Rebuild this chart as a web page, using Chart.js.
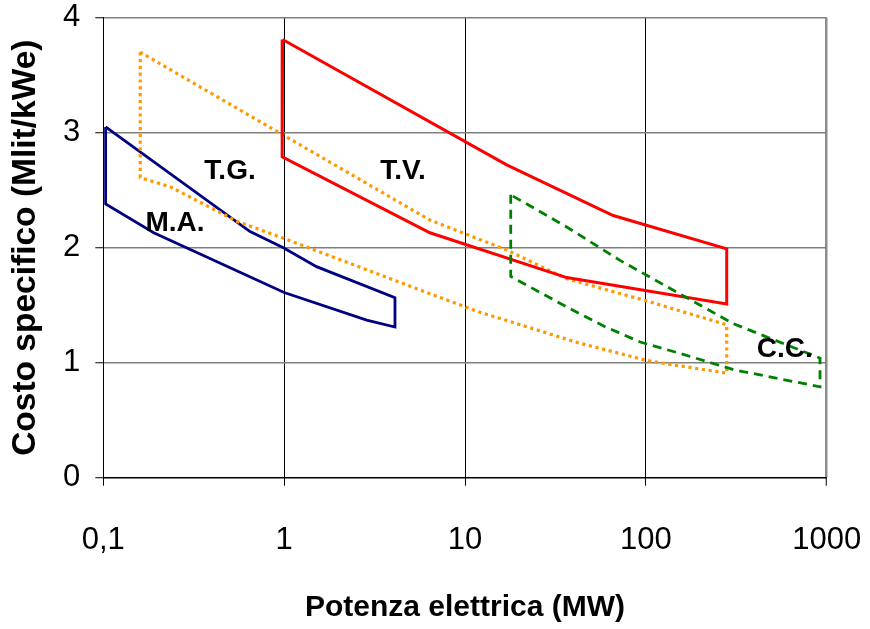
<!DOCTYPE html>
<html>
<head>
<meta charset="utf-8">
<script src="https://cdn.jsdelivr.net/npm/chart.js@4.4.1/dist/chart.umd.min.js"></script>
<style>
  html, body { margin: 0; padding: 0; background: #fff; }
  #wrap { width: 870px; height: 629px; }
</style>
</head>
<body>
<div id="wrap"><canvas id="costChart"></canvas></div>
<script>
// Axis ticks
const xTicks = [0.1, 1, 10, 100, 1000];
const xTickLabels = ["0,1", "1", "10", "100", "1000"];

// M.A. - motori alternativi
const maPower = [0.103, 0.103, 0.19, 1.0, 2.86, 4.1, 4.1, 1.51, 0.99, 0.648, 0.103];
const maCost = [3.05, 2.38, 2.13, 1.61, 1.37, 1.31, 1.565, 1.835, 2.0, 2.14, 3.05];

// T.G. - turbine a gas
const tgPower = [0.16, 0.16, 0.234, 0.547, 1.0, 6.4, 12, 43, 101, 130, 280, 280, 97, 36.5, 17, 6.4, 0.16];
const tgCost = [3.70, 2.61, 2.53, 2.23, 2.08, 1.60, 1.44, 1.17, 1.02, 0.99, 0.91, 1.33, 1.545, 1.73, 1.98, 2.24, 3.70];

// T.V. - turbine a vapore
const tvPower = [0.98, 0.975, 6.4, 36.5, 280, 280, 66, 17, 0.98];
const tvCost = [3.81, 2.79, 2.13, 1.74, 1.51, 1.99, 2.28, 2.72, 3.81];

// C.C. - ciclo combinato
const ccPower = [17.9, 17.9, 38, 60, 93, 155, 305, 918, 918, 304, 142, 72, 36.5, 17.9];
const ccCost = [2.46, 1.75, 1.47, 1.31, 1.18, 1.08, 0.94, 0.79, 1.04, 1.34, 1.63, 1.89, 2.18, 2.46];

// Region labels
const labelText = ["T.G.", "M.A.", "T.V.", "C.C."];
const labelPower = [0.502, 0.249, 4.54, 587];
const labelCost = [2.667, 2.21, 2.663, 1.119];

const FONT = "'Liberation Sans', Arial, sans-serif";

function toPoints(xs, ys) {
  return xs.map((v, i) => ({ x: v, y: ys[i] }));
}

// Draw the region names at their data positions
const regionLabels = {
  id: "regionLabels",
  afterDatasetsDraw(chart) {
    const { ctx, scales: { x, y } } = chart;
    ctx.save();
    ctx.font = "bold 28px " + FONT;
    ctx.fillStyle = "#000";
    ctx.textAlign = "center";
    ctx.textBaseline = "middle";
    labelText.forEach((t, i) => {
      ctx.fillText(t, x.getPixelForValue(labelPower[i]), y.getPixelForValue(labelCost[i]));
    });
    ctx.restore();
  },
};

new Chart(document.getElementById("costChart").getContext("2d"), {
  type: "scatter",
  data: {
    datasets: [
      {
        label: "M.A.",
        data: toPoints(maPower, maCost),
        borderColor: "#000080",
        borderWidth: 2.8,
        order: 4,
      },
      {
        label: "T.G.",
        data: toPoints(tgPower, tgCost),
        borderColor: "#FF9900",
        borderWidth: 3.2,
        borderDash: [3.2, 3.6],
        order: 3,
      },
      {
        label: "T.V.",
        data: toPoints(tvPower, tvCost),
        borderColor: "#FF0000",
        borderWidth: 3,
        order: 2,
      },
      {
        label: "C.C.",
        data: toPoints(ccPower, ccCost),
        borderColor: "#008000",
        borderWidth: 2.8,
        borderDash: [9, 6],
        order: 1,
      },
    ].map((d) => Object.assign(d, { showLine: true, pointRadius: 0, tension: 0, fill: false })),
  },
  options: {
    responsive: true,
    maintainAspectRatio: false,
    animation: false,
    devicePixelRatio: 1,
    layout: { padding: { left: 0, right: 43.3, top: 17.7, bottom: 0 } },
    plugins: {
      legend: { display: false },
      tooltip: { enabled: false },
    },
    scales: {
      x: {
        type: "logarithmic",
        min: 0.1,
        max: 1000,
        afterBuildTicks: (scale) => {
          scale.ticks = xTicks.map((v) => ({ value: v }));
        },
        afterFit: (scale) => {
          scale.height = 151.3;
        },
        ticks: {
          autoSkip: false,
          maxRotation: 0,
          // zero padding keeps the right margin; the tall line height moves labels down instead
          padding: 0,
          color: "#000",
          font: { family: FONT, size: 31, lineHeight: 3.52 },
          callback: (value, index) => xTickLabels[index],
        },
        grid: {
          color: (ctx) => (ctx.tick && ctx.tick.value === 1000 ? "#8c8c8c" : "#000"),
          lineWidth: (ctx) => (ctx.tick && ctx.tick.value === 1000 ? 2.5 : 1),
          tickColor: "#000",
          tickWidth: 1,
          tickLength: 8,
        },
        border: { color: "#000", width: 1 },
        title: {
          display: true,
          text: "Potenza elettrica (MW)",
          color: "#000",
          font: { family: FONT, size: 30, weight: "bold" },
          padding: { top: 0, bottom: 3.4 },
        },
      },
      y: {
        type: "linear",
        min: 0,
        max: 4,
        afterFit: (scale) => {
          scale.width = 103.3;
        },
        ticks: {
          stepSize: 1,
          padding: 15,
          color: "#000",
          // tiny line height so the top label does not push the plot area down
          font: { family: FONT, size: 31, lineHeight: 0.15 },
        },
        grid: {
          color: (ctx) => (ctx.tick && ctx.tick.value === 0 ? "#000" : "#808080"),
          lineWidth: 1.5,
          tickColor: "#000",
          tickWidth: 1,
          tickLength: 8,
        },
        border: { color: "#000", width: 1 },
        title: {
          display: true,
          text: "Costo specifico (Mlit/kWe)",
          color: "#000",
          font: { family: FONT, size: 33.5, weight: "bold" },
          padding: { top: 6, bottom: 0 },
        },
      },
    },
  },
  plugins: [regionLabels],
});
</script>
</body>
</html>
